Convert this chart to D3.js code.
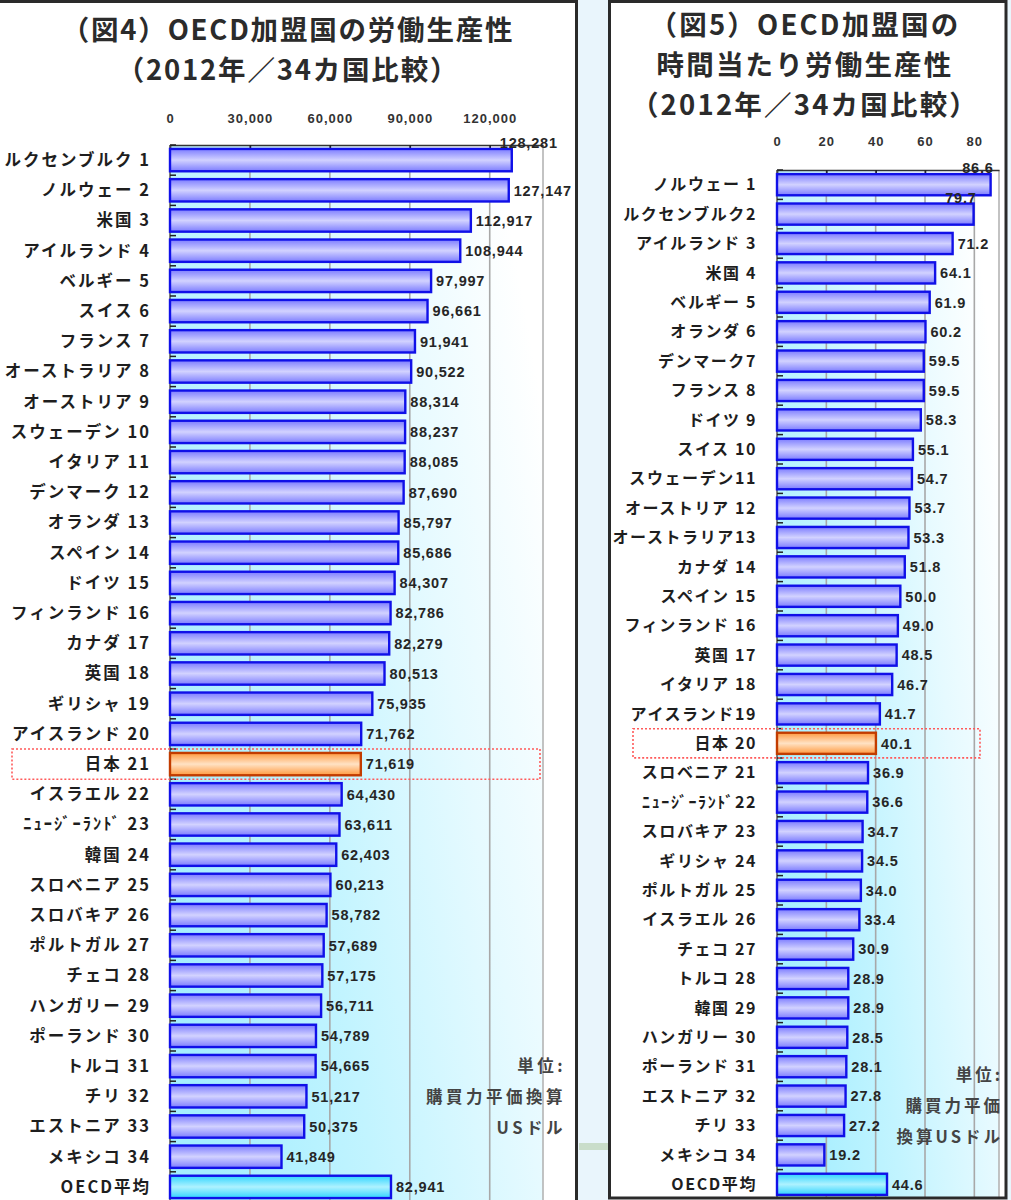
<!DOCTYPE html>
<html>
<head>
<meta charset="utf-8">
<script src="https://cdn.jsdelivr.net/npm/d3@7/dist/d3.min.js"></script>
<style>
  html, body { margin: 0; padding: 0; background: #ffffff; }
  svg { display: block; }
</style>
</head>
<body>
<svg id="chart" width="1011" height="1200"></svg>
<script>
// ---------- DATA ----------
const leftCategories = [
  "ルクセンブルク 1", "ノルウェー 2", "米国 3", "アイルランド 4", "ベルギー 5",
  "スイス 6", "フランス 7", "オーストラリア 8", "オーストリア 9", "スウェーデン 10",
  "イタリア 11", "デンマーク 12", "オランダ 13", "スペイン 14", "ドイツ 15",
  "フィンランド 16", "カナダ 17", "英国 18", "ギリシャ 19", "アイスランド 20",
  "日本 21", "イスラエル 22", "ﾆｭｰｼﾞｰﾗﾝﾄﾞ 23", "韓国 24", "スロベニア 25",
  "スロバキア 26", "ポルトガル 27", "チェコ 28", "ハンガリー 29", "ポーランド 30",
  "トルコ 31", "チリ 32", "エストニア 33", "メキシコ 34", "OECD平均"
];
const leftValues = [
  128281, 127147, 112917, 108944, 97997,
  96661, 91941, 90522, 88314, 88237,
  88085, 87690, 85797, 85686, 84307,
  82786, 82279, 80513, 75935, 71762,
  71619, 64430, 63611, 62403, 60213,
  58782, 57689, 57175, 56711, 54789,
  54665, 51217, 50375, 41849, 82941
];
const leftTicks = [0, 30000, 60000, 90000, 120000];
const leftAxisMax = 140000;

const rightCategories = [
  "ノルウェー 1", "ルクセンブルク2", "アイルランド 3", "米国 4", "ベルギー 5",
  "オランダ 6", "デンマーク7", "フランス 8", "ドイツ 9", "スイス 10",
  "スウェーデン11", "オーストリア 12", "オーストラリア13", "カナダ 14", "スペイン 15",
  "フィンランド 16", "英国 17", "イタリア 18", "アイスランド19", "日本 20",
  "スロベニア 21", "ﾆｭｰｼﾞｰﾗﾝﾄﾞ22", "スロバキア 23", "ギリシャ 24", "ポルトガル 25",
  "イスラエル 26", "チェコ 27", "トルコ 28", "韓国 29", "ハンガリー 30",
  "ポーランド 31", "エストニア 32", "チリ 33", "メキシコ 34", "OECD平均"
];
const rightValues = [
  86.6, 79.7, 71.2, 64.1, 61.9,
  60.2, 59.5, 59.5, 58.3, 55.1,
  54.7, 53.7, 53.3, 51.8, 50.0,
  49.0, 48.5, 46.7, 41.7, 40.1,
  36.9, 36.6, 34.7, 34.5, 34.0,
  33.4, 30.9, 28.9, 28.9, 28.5,
  28.1, 27.8, 27.2, 19.2, 44.6
];
const rightTicks = [0, 20, 40, 60, 80];
const rightAxisMax = 90;

const leftTitle = ["（図4）OECD加盟国の労働生産性", "（2012年／34カ国比較）"];
const rightTitle = ["（図5）OECD加盟国の", "時間当たり労働生産性", "（2012年／34カ国比較）"];
const leftUnit = ["単位:", "購買力平価換算", "USドル"];
const rightUnit = ["単位:", "購買力平価", "換算USドル"];
const highlightName = "日本";
const averageName = "OECD平均";

// ---------- DRAW ----------
const svg = d3.select("#chart");
const defs = svg.append("defs");

function vgrad(id, edge, mid) {
  const g = defs.append("linearGradient").attr("id", id)
    .attr("x1", 0).attr("y1", 0).attr("x2", 0).attr("y2", 1);
  g.append("stop").attr("offset", "0%").attr("stop-color", edge);
  g.append("stop").attr("offset", "50%").attr("stop-color", mid);
  g.append("stop").attr("offset", "100%").attr("stop-color", edge);
}
vgrad("gBlue", "#7c7cff", "#d2d2ff");
vgrad("gOrange", "#ff9a40", "#ffe2c4");
vgrad("gCyan", "#30d4ff", "#aef2ff");

const bg = defs.append("linearGradient").attr("id", "gPlot")
  .attr("x1", 0).attr("y1", 0.75).attr("x2", 1).attr("y2", 0.25);
bg.append("stop").attr("offset", "0%").attr("stop-color", "#a4eeff");
bg.append("stop").attr("offset", "35%").attr("stop-color", "#c2f4ff");
bg.append("stop").attr("offset", "70%").attr("stop-color", "#e6faff");
bg.append("stop").attr("offset", "100%").attr("stop-color", "#ffffff");

// page backgrounds between panels
svg.append("rect").attr("x", 578).attr("y", 0).attr("width", 32).attr("height", 1200).attr("fill", "#e9f5fc");
svg.append("rect").attr("x", 1007).attr("y", 0).attr("width", 4).attr("height", 1200).attr("fill", "#e9f5fc");
svg.append("rect").attr("x", 579).attr("y", 1143).attr("width", 30).attr("height", 7).attr("fill", "#c9ddca");

const labelFont = "'Noto Sans CJK JP', 'Noto Sans', sans-serif";
const numFont = "'Liberation Sans', Arial, sans-serif";

function drawChart(cfg) {
  const g = svg.append("g");
  const x = d3.scaleLinear().domain([0, cfg.max]).range([cfg.x0, cfg.x1]);
  const y = d3.scaleBand().domain(cfg.categories).range([cfg.top, cfg.top + cfg.step * cfg.categories.length])
    .paddingInner(cfg.pad).paddingOuter(cfg.pad / 2);
  const plotBottom = cfg.bottom;

  // plot area
  g.append("rect").attr("x", cfg.x0).attr("y", cfg.top)
    .attr("width", cfg.x1 - cfg.x0).attr("height", plotBottom - cfg.top)
    .attr("fill", "url(#gPlot)");

  // gridlines
  g.append("g").selectAll("line").data(cfg.ticks.filter(t => t > 0)).join("line")
    .attr("x1", d => x(d)).attr("x2", d => x(d))
    .attr("y1", cfg.top).attr("y2", plotBottom)
    .attr("stroke", "#a8a8a8").attr("stroke-width", 1.6);
  // plot right border
  g.append("line").attr("x1", cfg.x1).attr("x2", cfg.x1).attr("y1", cfg.top).attr("y2", plotBottom)
    .attr("stroke", "#b4b4b4").attr("stroke-width", 1.6);

  // top value axis
  const axis = d3.axisTop(x).tickValues(cfg.ticks).tickFormat(cfg.tickFormat)
    .tickSizeInner(-5).tickSizeOuter(0).tickPadding(cfg.tickPad);
  const ax = g.append("g").attr("transform", `translate(0,${cfg.top})`).call(axis);
  ax.select(".domain").attr("stroke", "#333").attr("stroke-width", 1.6);
  ax.selectAll(".tick line").attr("stroke", "#222").attr("stroke-width", 1.6);
  ax.selectAll(".tick text").attr("font-family", numFont).attr("font-weight", "bold")
    .attr("font-size", 13).attr("letter-spacing", 1).attr("fill", "#333");

  // category axis line
  g.append("line").attr("x1", cfg.x0).attr("x2", cfg.x0).attr("y1", cfg.top).attr("y2", plotBottom)
    .attr("stroke", "#555").attr("stroke-width", 1.5);
  const gap = y.step() - y.bandwidth();
  g.append("g").selectAll("line").data(cfg.categories).join("line")
    .attr("x1", cfg.x0).attr("x2", cfg.x0 + 6)
    .attr("y1", d => y(d) - gap / 2).attr("y2", d => y(d) - gap / 2)
    .attr("stroke", "#222").attr("stroke-width", 1.5);

  const rows = cfg.categories.map((c, i) => ({ c, v: cfg.values[i], i }));

  // highlight box
  const hl = rows.find(r => r.c.startsWith(highlightName));
  g.append("rect").attr("x", cfg.hlX0).attr("y", y(hl.c) - 4)
    .attr("width", cfg.hlX1 - cfg.hlX0).attr("height", y.bandwidth() + 8)
    .attr("fill", "none").attr("stroke", "#ff5a5a").attr("stroke-width", 1.6)
    .attr("stroke-dasharray", "2,2");

  // bars
  g.append("g").selectAll("rect").data(rows).join("rect")
    .attr("x", x(0)).attr("y", r => y(r.c))
    .attr("width", r => x(r.v) - x(0)).attr("height", y.bandwidth())
    .attr("fill", r => r.c.startsWith(highlightName) ? "url(#gOrange)" : (r.c === averageName ? "url(#gCyan)" : "url(#gBlue)"))
    .attr("stroke", r => r.c.startsWith(highlightName) ? "#c23c00" : "#1010e8")
    .attr("stroke-width", 2.4);

  // category labels
  g.append("g").selectAll("text").data(rows).join("text")
    .attr("x", cfg.labelX).attr("y", r => y(r.c) + y.bandwidth() / 2)
    .attr("dy", "0.36em").attr("text-anchor", "end")
    .attr("font-family", labelFont).attr("font-weight", "bold")
    .attr("font-size", cfg.labelSize).attr("letter-spacing", cfg.labelSpacing)
    .attr("fill", "#1e1e1e").text(r => r.c);

  // value labels
  g.append("g").selectAll("text").data(rows).join("text")
    .attr("x", r => r.i < cfg.raised ? x(r.v) + cfg.raisedDx : x(r.v) + 5)
    .attr("y", r => r.i < cfg.raised ? y(r.c) - 1 : y(r.c) + y.bandwidth() / 2)
    .attr("dy", r => r.i < cfg.raised ? "0" : "0.36em")
    .attr("text-anchor", r => r.i < cfg.raised ? cfg.raisedAnchor : "start")
    .attr("font-family", numFont).attr("font-weight", "bold")
    .attr("font-size", 14.5).attr("letter-spacing", 0.8)
    .attr("fill", "#262626").text(r => cfg.valueFormat(r.v));

  // title
  g.append("g").selectAll("text").data(cfg.title).join("text")
    .attr("x", cfg.titleX).attr("y", (d, i) => cfg.titleY + i * cfg.titleStep)
    .attr("text-anchor", "middle").attr("font-family", labelFont)
    .attr("font-weight", "bold").attr("font-size", 27.5).attr("letter-spacing", cfg.titleSpacing)
    .attr("fill", "#2b2b2b").text(d => d);

  // unit note
  g.append("g").selectAll("text").data(cfg.unit).join("text")
    .attr("x", cfg.unitX).attr("y", (d, i) => cfg.unitY + i * 31)
    .attr("text-anchor", "end").attr("font-family", labelFont)
    .attr("font-weight", "bold").attr("font-size", 16.5).attr("letter-spacing", cfg.unitSpacing)
    .attr("fill", "#444").text(d => d);
}

drawChart({
  categories: leftCategories, values: leftValues, ticks: leftTicks, max: leftAxisMax,
  x0: 170, x1: 543, top: 145, step: 30.2, pad: 0.26, bottom: 1200,
  tickFormat: d3.format(","), tickPad: 22, valueFormat: d3.format(","),
  labelX: 151, labelSize: 16.5, labelSpacing: 2,
  raised: 1, raisedAnchor: "start", raisedDx: -12,
  hlX0: 12, hlX1: 540,
  title: leftTitle, titleX: 288, titleY: 40, titleStep: 40, titleSpacing: 1.8,
  unit: leftUnit, unitX: 566, unitY: 1072, unitSpacing: 3.5
});

drawChart({
  categories: rightCategories, values: rightValues, ticks: rightTicks, max: rightAxisMax,
  x0: 777, x1: 999, top: 170, step: 29.4, pad: 0.28, bottom: 1197,
  tickFormat: d3.format("d"), tickPad: 24, valueFormat: d3.format(".1f"),
  labelX: 757, labelSize: 16, labelSpacing: 1.6,
  raised: 2, raisedAnchor: "end", raisedDx: 3,
  hlX0: 633, hlX1: 980,
  title: rightTitle, titleX: 805, titleY: 35, titleStep: 40, titleSpacing: 2.2,
  unit: rightUnit, unitX: 1003, unitY: 1081, unitSpacing: 3
});

// panel borders
svg.append("rect").attr("x", -3).attr("y", 1.5).attr("width", 579.5).attr("height", 1205)
  .attr("fill", "none").attr("stroke", "#2a2a2a").attr("stroke-width", 3);
svg.append("rect").attr("x", 609.5).attr("y", 1.5).attr("width", 396.5).attr("height", 1196.5)
  .attr("fill", "none").attr("stroke", "#2a2a2a").attr("stroke-width", 3);
</script>
</body>
</html>
